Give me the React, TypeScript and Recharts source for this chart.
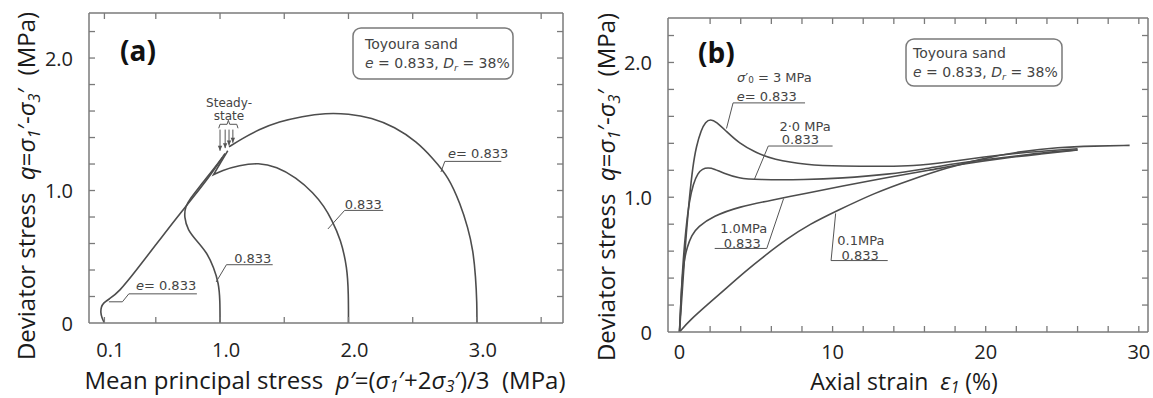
import React from 'react';
import { LineChart, Line, XAxis, YAxis, ReferenceLine, ReferenceDot } from 'recharts';

// ---------------- Panel (a): effective stress paths (p', q) ----------------
const pathA01P = [0.10, 0.08, 0.07, 0.075, 0.09, 0.135, 0.21, 0.35, 0.50, 0.65, 0.80, 0.92, 1.02];
const pathA01Q = [0.00, 0.04, 0.08, 0.12, 0.15, 0.18, 0.23, 0.40, 0.59, 0.78, 0.96, 1.11, 1.25];

const pathA10P = [1.00, 1.00, 0.99, 0.95, 0.90, 0.81, 0.75, 0.72, 0.73, 0.77, 0.84, 0.95, 1.04];
const pathA10Q = [0.00, 0.17, 0.30, 0.42, 0.53, 0.63, 0.70, 0.80, 0.88, 0.94, 1.03, 1.16, 1.28];

const pathA20P = [2.00, 2.00, 1.99, 1.94, 1.87, 1.81, 1.73, 1.59, 1.44, 1.30, 1.15, 1.01, 0.95, 0.95, 0.95, 1.01, 1.06];
const pathA20Q = [0.00, 0.22, 0.42, 0.63, 0.78, 0.88, 0.98, 1.10, 1.18, 1.21, 1.19, 1.15, 1.12, 1.12, 1.12, 1.22, 1.30];

const pathA30P = [3.00, 3.00, 2.99, 2.97, 2.93, 2.87, 2.78, 2.66, 2.53, 2.36, 2.18, 2.00, 1.82, 1.64, 1.46, 1.30, 1.17, 1.07];
const pathA30Q = [0.00, 0.15, 0.35, 0.55, 0.72, 0.90, 1.10, 1.24, 1.37, 1.48, 1.55, 1.58, 1.585, 1.56, 1.52, 1.46, 1.39, 1.33];

const ticksAX = [0.1, 0.5, 1, 1.5, 2, 2.5, 3, 3.5];
const tickLabelsAX: Record<string, string> = { '0.1': '0.1', '1': '1.0', '2': '2.0', '3': '3.0' };
const ticksQ = [0, 0.2, 0.4, 0.6, 0.8, 1, 1.2, 1.4, 1.6, 1.8, 2, 2.2];
const tickLabelsQ: Record<string, string> = { '0': '0', '1': '1.0', '2': '2.0' };

// annotation anchors in data units (p', q)
const labelsA = [
  { x: 0.58, y: 0.29, text: '*e*= 0.833' },
  { x: 1.255, y: 0.49, text: '0.833' },
  { x: 2.115, y: 0.90, text: '0.833' },
  { x: 3.01, y: 1.28, text: '*e*= 0.833' },
  { x: 1.07, y: 1.66, text: 'Steady-' },
  { x: 1.07, y: 1.56, text: 'state' },
];
const leadersA: [number, number][][] = [
  [[0.29, 0.22], [0.82, 0.22]], [[0.29, 0.22], [0.24, 0.16]], [[0.24, 0.16], [0.135, 0.16]],
  [[1.05, 0.44], [1.41, 0.44]], [[1.05, 0.44], [0.97, 0.31]],
  [[1.97, 0.85], [2.27, 0.85]], [[1.97, 0.85], [1.84, 0.71]],
  [[2.75, 1.22], [3.19, 1.22]], [[2.75, 1.22], [2.72, 1.14]],
  // brace
  [[0.99, 1.47], [1.0, 1.50]], [[1.0, 1.50], [1.055, 1.50]], [[1.055, 1.50], [1.065, 1.53]],
  [[1.065, 1.53], [1.075, 1.50]], [[1.075, 1.50], [1.13, 1.50]], [[1.13, 1.50], [1.14, 1.47]],
];
const steadyArrowP = [1.0, 1.04, 1.07, 1.10];
const steadyArrowQ = [1.30, 1.32, 1.34, 1.36];

// ---------------- Panel (b): stress-strain curves (eps1 %, q) ----------------
const curveB30E = [0, 0.15, 0.3, 0.44, 0.65, 0.87, 1.1, 1.42, 1.7, 2.03, 2.4, 3.05, 3.9, 5.0, 6.1, 8.3, 10.5, 13.7, 15.1, 17.5, 19.9, 22.3, 24.7, 26.0];
const curveB30Q = [0, 0.25, 0.5, 0.73, 1.0, 1.23, 1.38, 1.50, 1.56, 1.58, 1.56, 1.49, 1.40, 1.33, 1.28, 1.24, 1.23, 1.23, 1.23, 1.26, 1.30, 1.33, 1.35, 1.36];

const curveB20E = [0, 0.1, 0.22, 0.4, 0.65, 0.9, 1.2, 1.5, 1.85, 2.3, 2.83, 3.9, 5.0, 8.3, 10.5, 13.7, 16.0, 18.0, 20.0, 22.3, 24.5, 26.0];
const curveB20Q = [0, 0.25, 0.5, 0.75, 0.98, 1.10, 1.18, 1.21, 1.22, 1.21, 1.18, 1.14, 1.13, 1.13, 1.14, 1.17, 1.21, 1.25, 1.28, 1.31, 1.34, 1.35];

const curveB10E = [0, 0.08, 0.18, 0.3, 0.5, 0.8, 1.2, 2.2, 3.9, 6.1, 8.3, 10.5, 13.7, 16.3, 18.7, 21.1, 23.5, 26.0];
const curveB10Q = [0, 0.2, 0.4, 0.53, 0.63, 0.72, 0.78, 0.86, 0.93, 0.98, 1.03, 1.08, 1.15, 1.20, 1.25, 1.29, 1.32, 1.35];

const curveB01E = [0, 0.7, 1.9, 3.1, 4.3, 5.5, 7.0, 8.5, 10.3, 12.7, 15.1, 17.5, 19.9, 22.3, 24.7, 27.1, 29.4];
const curveB01Q = [0, 0.09, 0.21, 0.33, 0.45, 0.56, 0.69, 0.80, 0.90, 1.03, 1.13, 1.22, 1.29, 1.34, 1.37, 1.38, 1.385];

const ticksBX = [0, 2, 4, 6, 8, 10, 12, 14, 16, 18, 20, 22, 24, 26, 28, 30];
const tickLabelsBX: Record<string, string> = { '0': '0', '10': '10', '20': '20', '30': '30' };

const labelsB = [
  { x: 6.2, y: 1.89, text: '*σ*′_0_ = 3 MPa' },
  { x: 5.7, y: 1.75, text: '*e*= 0.833' },
  { x: 8.2, y: 1.53, text: '2·0 MPa' },
  { x: 7.9, y: 1.43, text: '0.833' },
  { x: 4.2, y: 0.77, text: '1.0MPa' },
  { x: 4.1, y: 0.66, text: '0.833' },
  { x: 11.85, y: 0.68, text: '0.1MPa' },
  { x: 11.8, y: 0.575, text: '0.833' },
];
const leadersB: [number, number][][] = [
  [[3.5, 1.70], [8.2, 1.70]], [[3.5, 1.70], [3.07, 1.51]],
  [[5.8, 1.38], [10.0, 1.38]], [[5.8, 1.38], [4.9, 1.135]],
  [[2.3, 0.62], [5.7, 0.62]], [[5.7, 0.62], [6.8, 0.99]],
  [[9.9, 0.53], [13.6, 0.53]], [[9.9, 0.53], [10.2, 0.88]],
];

// ---------------- helpers ----------------
const zip = (xs: number[], ys: number[]) => xs.map((x, i) => ({ x, y: ys[i] }));

const TICK_FONT = '"Open Sans", sans-serif';
const ANN_FONT = '"DejaVu Sans", sans-serif';
const LINE_COLOR = '#4d4d4d';
const FRAME_COLOR = '#7a7a7a';
const TICK_SIZE = 20;

function rich(s: string, base: number, subItalic = true, subShift = 0.2) {
  const parts = s.split(/(\*[^*]+\*|_[^_]+_|\^[^^]+\^)/).filter(Boolean);
  let shift = 0;
  return parts.map((p, i) => {
    let content = p;
    let target = 0;
    const style: any = {};
    if (p.startsWith('*')) {
      content = p.slice(1, -1);
      style.fontStyle = 'italic';
    } else if (p.startsWith('_')) {
      content = p.slice(1, -1);
      target = base * subShift;
      style.fontSize = base * 0.68;
      if (subItalic) style.fontStyle = 'italic';
    } else if (p.startsWith('^')) {
      content = p.slice(1, -1);
      target = -base * 0.4;
      style.fontSize = base * 0.7;
    }
    const dy = target - shift;
    shift = target;
    return (
      <tspan key={i} dy={dy} {...style}>
        {content}
      </tspan>
    );
  });
}

type Side = 'bottom' | 'top' | 'left' | 'right';
function makeTick(side: Side, labels: Record<string, string>, labelOffset: number, dx = 0) {
  return (props: any) => {
    const { x, y, payload } = props;
    const v = payload.value;
    const key = String(v);
    const len = 6;
    let mark: any = null;
    if (side === 'bottom' && v !== 0) mark = <line x1={x} y1={y} x2={x} y2={y - len} stroke={FRAME_COLOR} strokeWidth={1.3} />;
    if (side === 'top' && v !== 0) mark = <line x1={x} y1={y} x2={x} y2={y + len} stroke={FRAME_COLOR} strokeWidth={1.3} />;
    if (side === 'left' && v !== 0) mark = <line x1={x} y1={y} x2={x + len} y2={y} stroke={FRAME_COLOR} strokeWidth={1.3} />;
    if (side === 'right' && v !== 0) mark = <line x1={x} y1={y} x2={x - len} y2={y} stroke={FRAME_COLOR} strokeWidth={1.3} />;
    const label = labels[key];
    let text: any = null;
    if (label !== undefined) {
      if (side === 'bottom') {
        text = (
          <text x={x + dx} y={y + labelOffset} textAnchor="middle" fontFamily={TICK_FONT} fontSize={TICK_SIZE} fill="#222">
            {label}
          </text>
        );
      } else if (side === 'left') {
        text = (
          <text x={x - labelOffset} y={y} textAnchor="end" dominantBaseline="central" fontFamily={TICK_FONT} fontSize={TICK_SIZE} fill="#222">
            {label}
          </text>
        );
      }
    }
    return (
      <g>
        {mark}
        {text}
      </g>
    );
  };
}

const noLabels: Record<string, string> = {};

function AnnShape(text: string, size: number) {
  return (props: any) => (
    <text
      x={props.cx}
      y={props.cy}
      textAnchor="middle"
      dominantBaseline="central"
      fontFamily={ANN_FONT}
      fontSize={size}
      fill="#444"
      xmlSpace="preserve"
      style={{ whiteSpace: 'pre' }}
    >
      {rich(text, size, false)}
    </text>
  );
}

const ArrowHead = (props: any) => (
  <path d={`M${props.cx - 2.2},${props.cy - 5} L${props.cx + 2.2},${props.cy - 5} L${props.cx},${props.cy} Z`} fill="#555" />
);

// every axis is 1px thick so that recharts draws it; margins subtract that pixel
function frameAxes(xDomain: number[], yDomain: number[], xTicks: number[], xLabels: Record<string, string>, xLabelOffset: number, xLabelDx: number) {
  const line = { stroke: FRAME_COLOR, strokeWidth: 1.5 };
  return [
    <XAxis
      key="xb"
      xAxisId="xb"
      type="number"
      dataKey="x"
      domain={xDomain}
      allowDataOverflow
      ticks={xTicks}
      interval={0}
      height={1}
      tickSize={0}
      tickMargin={0}
      tickLine={false}
      axisLine={line}
      tick={makeTick('bottom', xLabels, xLabelOffset, xLabelDx)}
    />,
    <XAxis
      key="xt"
      xAxisId="xt"
      orientation="top"
      type="number"
      dataKey="x"
      domain={xDomain}
      allowDataOverflow
      ticks={xTicks}
      interval={0}
      height={1}
      tickSize={0}
      tickMargin={0}
      tickLine={false}
      axisLine={line}
      tick={makeTick('top', noLabels, 0)}
    />,
    <YAxis
      key="yl"
      yAxisId="yl"
      type="number"
      dataKey="y"
      domain={yDomain}
      allowDataOverflow
      ticks={ticksQ}
      interval={0}
      width={1}
      tickSize={0}
      tickMargin={0}
      tickLine={false}
      axisLine={line}
      tick={makeTick('left', tickLabelsQ, 16)}
    />,
    <YAxis
      key="yr"
      yAxisId="yr"
      orientation="right"
      type="number"
      dataKey="y"
      domain={yDomain}
      allowDataOverflow
      ticks={ticksQ}
      interval={0}
      width={1}
      tickSize={0}
      tickMargin={0}
      tickLine={false}
      axisLine={line}
      tick={makeTick('right', noLabels, 0)}
    />,
  ];
}

function curve(key: string, data: { x: number; y: number }[]) {
  return (
    <Line
      key={key}
      data={data}
      dataKey="y"
      xAxisId="xb"
      yAxisId="yl"
      type="basis"
      stroke={LINE_COLOR}
      strokeWidth={1.6}
      dot={false}
      activeDot={false}
      isAnimationActive={false}
    />
  );
}

function segments(prefix: string, list: [number, number][][]) {
  return list.map((s, i) => (
    <ReferenceLine
      key={prefix + i}
      xAxisId="xb"
      yAxisId="yl"
      segment={[{ x: s[0][0], y: s[0][1] }, { x: s[1][0], y: s[1][1] }]}
      stroke="#555"
      strokeWidth={1}
      ifOverflow="visible"
    />
  ));
}

function texts(prefix: string, list: { x: number; y: number; text: string }[], size: number) {
  return list.map((l, i) => (
    <ReferenceDot
      key={prefix + i}
      xAxisId="xb"
      yAxisId="yl"
      x={l.x}
      y={l.y}
      r={0}
      ifOverflow="visible"
      shape={AnnShape(l.text, size)}
    />
  ));
}

export default function App() {
  const titleFont = { fontFamily: TICK_FONT, fontSize: 24, fill: '#1a1a1a' } as const;
  return (
    <div style={{ position: 'absolute', left: 0, top: 0, width: 1153, height: 398, background: '#fff' }}>
      <div style={{ position: 'absolute', left: 0, top: 0 }}>
        <LineChart width={580} height={398} margin={{ top: 12, right: 16, bottom: 74, left: 88 }}>
          {frameAxes([-0.02, 3.67], [0, 2.34], ticksAX, tickLabelsAX, 34, 6)}
          {curve('a01', zip(pathA01P, pathA01Q))}
          {curve('a10', zip(pathA10P, pathA10Q))}
          {curve('a20', zip(pathA20P, pathA20Q))}
          {curve('a30', zip(pathA30P, pathA30Q))}
          {segments('la', leadersA)}
          {steadyArrowP.map((p, i) => (
            <ReferenceLine
              key={'sa' + i}
              xAxisId="xb"
              yAxisId="yl"
              segment={[{ x: p, y: 1.46 }, { x: p, y: steadyArrowQ[i] }]}
              stroke="#555"
              strokeWidth={1}
            />
          ))}
          {steadyArrowP.map((p, i) => (
            <ReferenceDot key={'sh' + i} xAxisId="xb" yAxisId="yl" x={p} y={steadyArrowQ[i]} r={0} shape={ArrowHead} />
          ))}
          {texts('ta', labelsA.slice(0, 4), 13)}
          {texts('ts', labelsA.slice(4), 12)}
        </LineChart>
      </div>
      <div style={{ position: 'absolute', left: 580, top: 0 }}>
        <LineChart width={573} height={398} margin={{ top: 17, right: 4, bottom: 65, left: 87 }}>
          {frameAxes([-0.75, 30.6], [0, 2.33], ticksBX, tickLabelsBX, 27, 0)}
          {curve('b30', zip(curveB30E, curveB30Q))}
          {curve('b20', zip(curveB20E, curveB20Q))}
          {curve('b10', zip(curveB10E, curveB10Q))}
          {curve('b01', zip(curveB01E, curveB01Q))}
          {segments('lb', leadersB)}
          {texts('tb', labelsB, 13)}
        </LineChart>
      </div>
      <svg
        width={1153}
        height={398}
        style={{ position: 'absolute', left: 0, top: 0, pointerEvents: 'none' }}
      >
        {/* panel labels */}
        <text x={120} y={61} fontFamily={TICK_FONT} fontSize={28} fontWeight="bold" fill="#111">(a)</text>
        <text x={698} y={63} fontFamily={TICK_FONT} fontSize={28} fontWeight="bold" fill="#111">(b)</text>

        {/* legend boxes */}
        <rect x={353} y={28} width={160} height={51} rx={8} ry={8} fill="#fff" stroke={FRAME_COLOR} strokeWidth={1.5} />
        <text x={365} y={49} fontFamily={ANN_FONT} fontSize={14} fill="#444">Toyoura sand</text>
        <text x={365} y={68} fontFamily={ANN_FONT} fontSize={14} fill="#444" xmlSpace="preserve" style={{ whiteSpace: 'pre' }}>
          {rich('*e* = 0.833, *D*_r_ = 38%', 14)}
        </text>
        <rect x={906} y={39} width={156} height={47} rx={8} ry={8} fill="#fff" stroke={FRAME_COLOR} strokeWidth={1.5} />
        <text x={913} y={58} fontFamily={ANN_FONT} fontSize={14} fill="#444">Toyoura sand</text>
        <text x={913} y={77} fontFamily={ANN_FONT} fontSize={14} fill="#444" xmlSpace="preserve" style={{ whiteSpace: 'pre' }}>
          {rich('*e* = 0.833, *D*_r_ = 38%', 14)}
        </text>

        {/* axis titles */}
        <text x={325} y={389} textAnchor="middle" {...titleFont} xmlSpace="preserve" style={{ whiteSpace: 'pre' }}>
          {rich('Mean principal stress  *p′*=(*σ*_1_′+2*σ*_3_′)/3  (MPa)', 24, true, 0.14)}
        </text>
        <text x={904} y={390} textAnchor="middle" {...titleFont} fontSize={23} xmlSpace="preserve" style={{ whiteSpace: 'pre' }}>
          {rich('Axial strain  *ε*_1_ (%)', 23, true, 0.12)}
        </text>
        <text
          x={35}
          y={186}
          transform="rotate(-90 35 186)"
          textAnchor="middle"
          {...titleFont}
          xmlSpace="preserve"
          style={{ whiteSpace: 'pre' }}
        >
          {rich('Deviator stress  *q*=*σ*_1_′-*σ*_3_′  (MPa)', 24)}
        </text>
        <text
          x={615}
          y={187}
          transform="rotate(-90 615 187)"
          textAnchor="middle"
          {...titleFont}
          xmlSpace="preserve"
          style={{ whiteSpace: 'pre' }}
        >
          {rich('Deviator stress  *q*=*σ*_1_′-*σ*_3_′  (MPa)', 24)}
        </text>
      </svg>
    </div>
  );
}
